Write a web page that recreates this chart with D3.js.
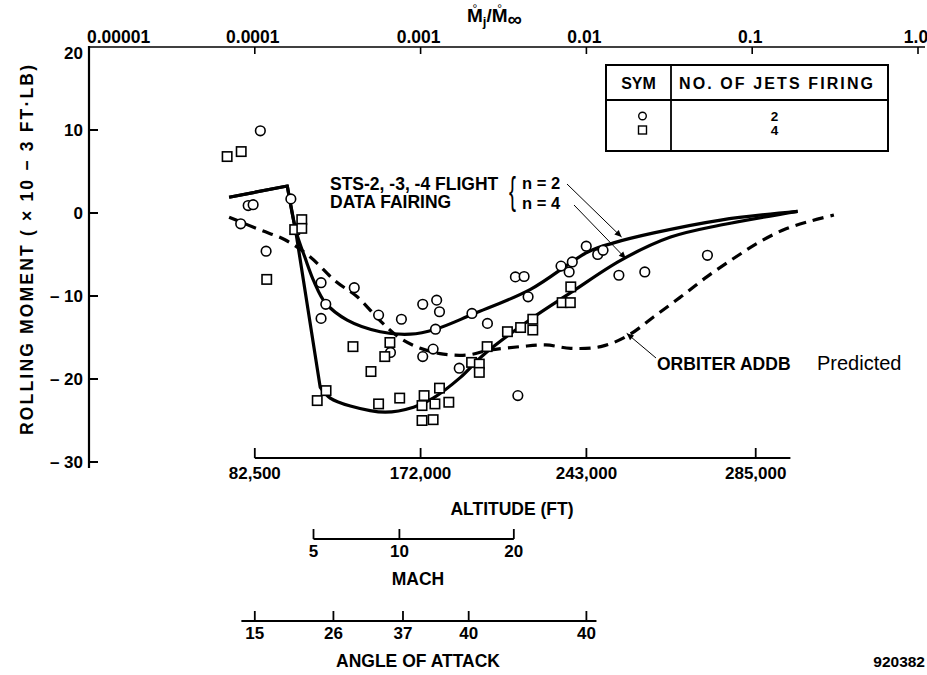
<!DOCTYPE html>
<html>
<head>
<meta charset="utf-8">
<script src="https://cdn.jsdelivr.net/npm/d3@7"></script>
<style>
  html, body { margin: 0; padding: 0; background: #fff; }
  svg { display: block; }
  text { font-family: "Liberation Sans", Arial, Helvetica, sans-serif; font-weight: bold; fill: #000; }
</style>
</head>
<body>
<svg id="chart" width="927" height="675"></svg>
<script>
// ---- Flight samples: jet mass-flow ratio (Mj/M∞) and rolling moment (x10^-3 ft-lb) ----
const twoJetRatio = [1.08e-4, 9.12e-5, 9.77e-5, 8.22e-5, 1.17e-4, 1.65e-4, 2.51e-4, 3.98e-4, 2.68e-4, 2.51e-4,
  5.58e-4, 7.66e-4, 1.03e-3, 1.25e-3, 1.30e-3, 1.23e-3, 2.04e-3, 2.53e-3, 3.73e-3, 4.21e-3,
  4.45e-3, 7.03e-3, 8.22e-3, 7.87e-3, 9.98e-3, 1.17e-2, 1.26e-2, 1.57e-2, 2.25e-2, 5.37e-2,
  6.58e-4, 1.03e-3, 1.19e-3, 1.71e-3, 3.86e-3];
const twoJetMoment = [9.9, 0.9, 1.0, -1.3, -4.6, 1.7, -8.4, -9.0, -11.0, -12.7,
  -12.3, -12.8, -11.0, -10.5, -11.9, -14.0, -12.1, -13.3, -7.7, -7.65,
  -10.1, -6.4, -5.9, -7.1, -4.0, -5.0, -4.5, -7.5, -7.1, -5.1,
  -16.8, -17.3, -16.4, -18.7, -22.0];

const fourJetRatio = [6.81e-5, 8.28e-5, 1.18e-4, 1.92e-4, 1.74e-4, 1.92e-4, 3.91e-4, 5.02e-4, 2.69e-4, 2.38e-4,
  6.53e-4, 6.08e-4, 5.58e-4, 7.48e-4, 1.05e-3, 1.02e-3, 1.22e-3, 1.30e-3, 1.48e-3, 1.02e-3,
  1.19e-3, 2.03e-3, 2.26e-3, 2.26e-3, 2.52e-3, 3.34e-3, 4.01e-3, 4.75e-3, 4.75e-3, 8.05e-3,
  7.14e-3, 8.00e-3];
const fourJetMoment = [6.8, 7.4, -8.0, -0.8, -2.0, -1.85, -16.1, -19.1, -21.4, -22.6,
  -15.6, -17.3, -23.0, -22.3, -22.0, -23.2, -23.0, -21.1, -22.8, -25.0,
  -24.9, -18.0, -18.2, -19.2, -16.1, -14.3, -13.8, -12.8, -14.1, -8.9,
  -10.8, -10.8];

// ---- STS-2, -3, -4 flight data fairings (leading knots joined straight, then faired) ----
const fairing2Ratio = [7.0e-5, 1.57e-4, 1.78e-4, 2.01e-4, 2.28e-4, 2.66e-4, 3.61e-4, 5.71e-4, 8.67e-4, 1.23e-3,
  2.06e-3, 4.6e-3, 1.02e-2, 1.46e-2, 2.55e-2, 6.46e-2, 0.188];
const fairing2Moment = [1.9, 3.25, -2.3, -5.4, -8.3, -10.8, -12.9, -14.3, -14.6, -14.0,
  -12.2, -9.2, -4.7, -3.6, -2.4, -0.85, 0.2];
const fairing2Straight = 2;

const fairing4Ratio = [7.0e-5, 1.57e-4, 1.78e-4, 2.48e-4, 2.85e-4, 3.77e-4, 6.12e-4, 9.06e-4, 1.19e-3, 1.74e-3,
  2.39e-3, 4.6e-3, 8.04e-3, 1.61e-2, 3.22e-2, 6.46e-2, 0.188];
const fairing4Moment = [1.9, 3.25, -2.65, -21.0, -22.3, -23.25, -24.0, -23.4, -22.3, -19.8,
  -17.1, -12.8, -9.6, -5.7, -2.9, -1.45, 0.2];
const fairing4Straight = 4;

// ---- Orbiter ADDB prediction ----
const addbRatio = [7.0e-5, 1.08e-4, 1.53e-4, 2.16e-4, 3.06e-4, 4.15e-4, 5.71e-4, 7.55e-4, 9.98e-4, 1.37e-3,
  1.92e-3, 2.64e-3, 4.01e-3, 5.68e-3, 8.04e-3, 1.22e-2, 1.77e-2, 2.55e-2, 3.71e-2, 5.4e-2,
  7.96e-2, 0.1127, 0.16, 0.226, 0.311];
const addbMoment = [-0.5, -2.05, -3.25, -5.3, -8.2, -10.1, -13.0, -15.1, -16.3, -17.0,
  -17.1, -16.5, -16.1, -15.9, -16.3, -16.1, -14.8, -12.5, -10.1, -7.6,
  -5.3, -3.4, -1.9, -0.96, -0.24];

// ---- Axis ticks ----
const ratioTicks = [1e-5, 1e-4, 1e-3, 1e-2, 1e-1, 1];
const ratioTickLabels = ["0.00001", "0.0001", "0.001", "0.01", "0.1", "1.0"];
const momentTicks = [20, 10, 0, -10, -20, -30];
const momentTickLabels = ["20", "10", "0", "\u2013 10", "\u2013 20", "\u2013 30"];

// Secondary scales: flight condition at a given mass-flow ratio
const altitudeLabels = ["82,500", "172,000", "243,000", "285,000"];
const altitudeRatio = [1e-4, 1e-3, 1e-2, 0.105];
const altitudeExtent = [1e-4, 0.17];
const machLabels = ["5", "10", "20"];
const machRatio = [2.26e-4, 7.45e-4, 3.65e-3];
const machExtent = [2.26e-4, 3.65e-3];
const alphaLabels = ["15", "26", "37", "40", "40"];
const alphaRatio = [1e-4, 2.98e-4, 7.83e-4, 1.95e-3, 1e-2];
const alphaExtent = [8.3e-5, 1.15e-2];

const legendSymbols = ["circle", "square"];
const legendJets = ["2", "4"];

// ---------------------------------------------------------------
const svg = d3.select("#chart");
const x = d3.scaleLog().domain([1e-5, 1]).range([89, 918]);
const y = d3.scaleLinear().domain([-30, 20]).range([462, 47]);

svg.append("defs").append("marker")
  .attr("id", "arrow").attr("viewBox", "0 0 10 10")
  .attr("refX", 10).attr("refY", 5)
  .attr("markerWidth", 9).attr("markerHeight", 7)
  .attr("markerUnits", "userSpaceOnUse")
  .attr("orient", "auto")
  .append("path").attr("d", "M0,0.5 L10,5 L0,9.5 Z").attr("fill", "#000");

// Top axis (mass-flow ratio)
svg.append("line").attr("x1", x(1e-5)).attr("x2", 925).attr("y1", y(20)).attr("y2", y(20))
  .attr("stroke", "#000").attr("stroke-width", 1.6);
ratioTicks.forEach((t, i) => {
  if (i > 0) {
    svg.append("line").attr("x1", x(t)).attr("x2", x(t)).attr("y1", y(20)).attr("y2", y(20) + 7)
      .attr("stroke", "#000").attr("stroke-width", 1.6);
  }
  svg.append("text")
    .attr("x", x(t) - 2)
    .attr("y", 43)
    .attr("text-anchor", i === 0 ? "start" : "middle")
    .attr("font-size", 17.5)
    .text(ratioTickLabels[i]);
});

// Top axis title: M̊j / M̊∞ (dot-M rings set as raised tspans over each M)
function measure(str, size, weight) {
  const t = svg.append("text").attr("font-size", size).style("font-weight", weight).text(str);
  const w = t.node().getComputedTextLength();
  t.remove();
  return w;
}
const mW = measure("M", 19, "bold");
const rW = measure("\u00B0", 12, "normal");
const ttl = svg.append("text").attr("x", 467).attr("y", 22).attr("font-size", 19);
function dottedM(first) {
  ttl.append("tspan").text("M");
  ttl.append("tspan").attr("dx", -(mW + rW) / 2).attr("dy", -9)
    .attr("font-size", 12).style("font-weight", "normal").text("\u00B0");
  return (mW - rW) / 2;
}
let back = dottedM(true);
ttl.append("tspan").attr("dx", back).attr("dy", 13).attr("font-size", 13).text("j");
ttl.append("tspan").attr("dy", -4).text("/");
back = dottedM(false);
ttl.append("tspan").attr("dx", back).attr("dy", 13).attr("font-size", 20).text("\u221E");

// Left axis (rolling moment)
svg.append("line").attr("x1", x(1e-5)).attr("x2", x(1e-5)).attr("y1", y(20) - 1).attr("y2", y(-30) + 6)
  .attr("stroke", "#000").attr("stroke-width", 2.2);
momentTicks.forEach((t, i) => {
  if (i > 0) {
    svg.append("line").attr("x1", x(1e-5)).attr("x2", x(1e-5) + 9).attr("y1", y(t)).attr("y2", y(t))
      .attr("stroke", "#000").attr("stroke-width", 2);
  }
  svg.append("text").attr("x", 83).attr("y", i === 0 ? y(t) + 12 : y(t) + 6)
    .attr("text-anchor", "end").attr("font-size", 17).text(momentTickLabels[i]);
});
svg.append("text")
  .attr("transform", "translate(33,250) rotate(-90)")
  .attr("text-anchor", "middle").attr("font-size", 17.5)
  .attr("textLength", 370).attr("lengthAdjust", "spacing")
  .text("ROLLING MOMENT ( \u00D7 10 \u2212 3 FT\u00B7LB)");

// Secondary scales below the plot
function conditionScale(lineY, ratios, labels, extent, labelBaseline, title, titleX, titleBaseline) {
  svg.append("line").attr("x1", x(extent[0])).attr("x2", x(extent[1])).attr("y1", lineY).attr("y2", lineY)
    .attr("stroke", "#000").attr("stroke-width", 1.8);
  ratios.forEach((r, i) => {
    svg.append("line").attr("x1", x(r)).attr("x2", x(r)).attr("y1", lineY).attr("y2", lineY - 10)
      .attr("stroke", "#000").attr("stroke-width", 1.8);
    svg.append("text").attr("x", x(r)).attr("y", labelBaseline).attr("text-anchor", "middle")
      .attr("font-size", 17).text(labels[i]);
  });
  svg.append("text").attr("x", titleX).attr("y", titleBaseline).attr("text-anchor", "middle")
    .attr("font-size", 17.5).text(title);
}
conditionScale(458, altitudeRatio, altitudeLabels, altitudeExtent, 479, "ALTITUDE (FT)", 512, 515);
conditionScale(539, machRatio, machLabels, machExtent, 557, "MACH", 418, 585);
conditionScale(621, alphaRatio, alphaLabels, alphaExtent, 639, "ANGLE OF ATTACK", 418, 667);

svg.append("text").attr("x", 925).attr("y", 667).attr("text-anchor", "end")
  .attr("font-size", 15.5).text("920382");

// Curves
const toPts = (rs, ms) => rs.map((r, i) => [r, ms[i]]);
const smooth = d3.line().x(d => x(d[0])).y(d => y(d[1])).curve(d3.curveCatmullRom.alpha(0.5));
const straight = d3.line().x(d => x(d[0])).y(d => y(d[1]));
function fairingPath(rs, ms, nStraight) {
  const pts = toPts(rs, ms);
  const head = straight(pts.slice(0, nStraight));
  const tail = smooth(pts.slice(nStraight - 1)).replace(/^M[^CLQ]*/, "");
  return head + tail;
}

svg.append("path").attr("d", smooth(toPts(addbRatio, addbMoment)))
  .attr("fill", "none").attr("stroke", "#000").attr("stroke-width", 3.2)
  .attr("stroke-dasharray", "11,7");
svg.append("path").attr("d", fairingPath(fairing2Ratio, fairing2Moment, fairing2Straight))
  .attr("fill", "none").attr("stroke", "#000").attr("stroke-width", 3.2)
  .attr("stroke-linejoin", "miter").attr("stroke-miterlimit", 10);
svg.append("path").attr("d", fairingPath(fairing4Ratio, fairing4Moment, fairing4Straight))
  .attr("fill", "none").attr("stroke", "#000").attr("stroke-width", 3.2)
  .attr("stroke-linejoin", "round");

// Data symbols
svg.append("g").selectAll("circle").data(toPts(twoJetRatio, twoJetMoment)).join("circle")
  .attr("cx", d => x(d[0])).attr("cy", d => y(d[1])).attr("r", 4.8)
  .attr("fill", "#fff").attr("stroke", "#000").attr("stroke-width", 1.6);
const sq = 9.4;
svg.append("g").selectAll("rect").data(toPts(fourJetRatio, fourJetMoment)).join("rect")
  .attr("x", d => x(d[0]) - sq / 2).attr("y", d => y(d[1]) - sq / 2)
  .attr("width", sq).attr("height", sq)
  .attr("fill", "#fff").attr("stroke", "#000").attr("stroke-width", 1.6);

// Annotations
svg.append("text").attr("x", 330).attr("y", 190).attr("font-size", 17.5).text("STS-2, -3, -4 FLIGHT");
svg.append("text").attr("x", 330).attr("y", 208).attr("font-size", 17.5).text("DATA FAIRING");
svg.append("text").attr("transform", "translate(509,204) scale(0.55,1)")
  .attr("font-family", "DejaVu Sans").style("font-weight", "normal").attr("font-size", 38).text("{");
svg.append("text").attr("x", 522).attr("y", 189).attr("font-size", 16.5).text("n = 2");
svg.append("text").attr("x", 522).attr("y", 209).attr("font-size", 16.5).text("n = 4");

svg.append("line").attr("x1", 567).attr("y1", 184).attr("x2", x(1.63e-2)).attr("y2", y(-2.9))
  .attr("stroke", "#000").attr("stroke-width", 1).attr("marker-end", "url(#arrow)");
svg.append("line").attr("x1", 574).attr("y1", 205).attr("x2", x(1.73e-2)).attr("y2", y(-5.5))
  .attr("stroke", "#000").attr("stroke-width", 1).attr("marker-end", "url(#arrow)");

svg.append("line").attr("x1", 656).attr("y1", 358).attr("x2", x(1.75e-2)).attr("y2", y(-14.5))
  .attr("stroke", "#000").attr("stroke-width", 1).attr("marker-end", "url(#arrow)");
svg.append("text").attr("x", 657).attr("y", 370).attr("font-size", 17.5).text("ORBITER ADDB");
svg.append("text").attr("x", 817).attr("y", 370).attr("font-size", 20)
  .style("font-weight", "normal").text("Predicted");

// Legend table
const lg = svg.append("g");
lg.append("rect").attr("x", 606).attr("y", 65).attr("width", 282).attr("height", 86)
  .attr("fill", "#fff").attr("stroke", "#000").attr("stroke-width", 2);
lg.append("line").attr("x1", 606).attr("x2", 888).attr("y1", 100).attr("y2", 100)
  .attr("stroke", "#000").attr("stroke-width", 1.8);
lg.append("line").attr("x1", 671).attr("x2", 671).attr("y1", 65).attr("y2", 151)
  .attr("stroke", "#000").attr("stroke-width", 1.8);
lg.append("text").attr("x", 638.5).attr("y", 89).attr("text-anchor", "middle").attr("font-size", 16).text("SYM");
lg.append("text").attr("x", 776).attr("y", 89).attr("text-anchor", "middle").attr("font-size", 16)
  .attr("textLength", 194).attr("lengthAdjust", "spacing").text("NO. OF JETS FIRING");
legendSymbols.forEach((s, i) => {
  const cy = 116 + i * 14;
  if (s === "circle") {
    lg.append("circle").attr("cx", 642.5).attr("cy", cy).attr("r", 3.8)
      .attr("fill", "#fff").attr("stroke", "#000").attr("stroke-width", 1.4);
  } else {
    lg.append("rect").attr("x", 642.5 - 4).attr("y", cy - 4).attr("width", 8).attr("height", 8)
      .attr("fill", "#fff").attr("stroke", "#000").attr("stroke-width", 1.4);
  }
  lg.append("text").attr("x", 774.5).attr("y", cy + 5).attr("text-anchor", "middle")
    .attr("font-size", 13.5).text(legendJets[i]);
});
</script>
</body>
</html>
